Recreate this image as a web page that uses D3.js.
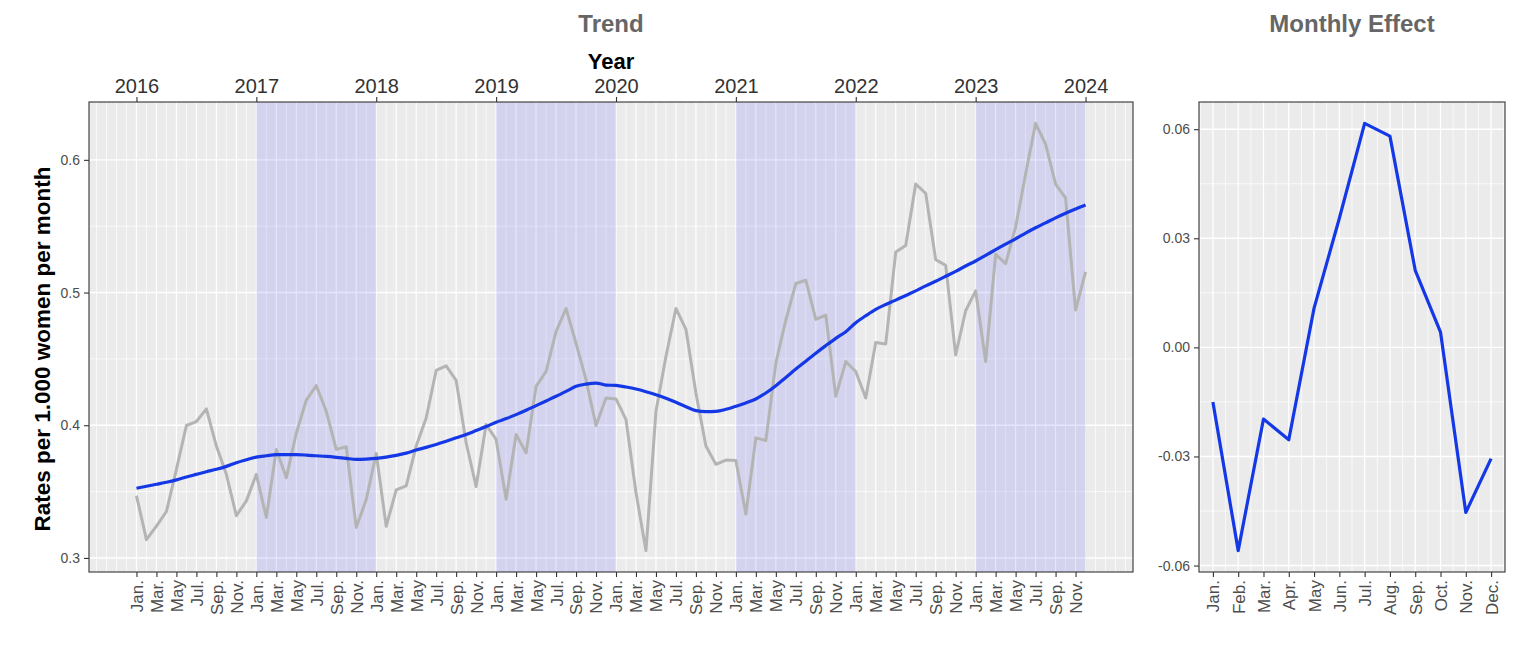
<!DOCTYPE html>
<html><head><meta charset="utf-8">
<script src="https://cdn.jsdelivr.net/npm/d3@7"></script>
<style>
body{margin:0;background:#fff}
text{font-family:"Liberation Sans",Arial,sans-serif}
</style>
</head><body>
<svg id="c" width="1539" height="670"></svg>
<script>
// ---------------- data ----------------
const monthAbbr = ["Jan.","Feb.","Mar.","Apr.","May","Jun.","Jul.","Aug.","Sep.","Oct.","Nov.","Dec."];
// monthly rates, Jan 2016 .. Dec 2023 (index 0..95)
const rates = [
 0.347,0.3138,0.324,0.335,0.3668,0.3998,0.4028,0.4123,0.3843,0.363,0.3318,0.343,
 0.363,0.3305,0.3818,0.3605,0.394,0.419,0.4298,0.4105,0.3818,0.3838,0.323,0.344,
 0.3788,0.3238,0.3513,0.3543,0.3843,0.4055,0.4413,0.4448,0.4338,0.3868,0.3538,0.4005,
 0.3893,0.3443,0.393,0.3793,0.4293,0.4405,0.4705,0.488,0.4618,0.4343,0.3998,0.4205,
 0.4198,0.4043,0.3493,0.3055,0.4105,0.4518,0.488,0.4723,0.4243,0.3843,0.3705,0.3738,
 0.3735,0.333,0.3905,0.3885,0.4468,0.4793,0.5068,0.5093,0.4798,0.483,0.4218,0.448,
 0.4405,0.4205,0.4623,0.4613,0.5305,0.5355,0.5818,0.5748,0.5248,0.5205,0.453,0.4863,
 0.5013,0.448,0.5288,0.5218,0.5493,0.5893,0.6275,0.6118,0.5818,0.5713,0.4868,0.5155
];
const trend = [
 0.3525,0.354,0.3555,0.357,0.3588,0.361,0.363,0.365,0.3668,0.369,0.3718,0.374,
 0.376,0.377,0.3778,0.3778,0.3778,0.3775,0.377,0.3765,0.3758,0.375,0.3743,0.3745,
 0.375,0.376,0.3773,0.379,0.3813,0.3833,0.3855,0.388,0.3905,0.393,0.396,0.399,
 0.4023,0.405,0.408,0.4113,0.4148,0.4183,0.4218,0.4255,0.4293,0.431,0.4318,0.4303,
 0.43,0.4288,0.4273,0.4253,0.423,0.4203,0.4173,0.414,0.411,0.4103,0.4105,0.412,
 0.4143,0.4168,0.4198,0.4243,0.4298,0.436,0.4423,0.4483,0.4543,0.46,0.4655,0.4705,
 0.4773,0.4825,0.4873,0.491,0.4943,0.4978,0.5013,0.505,0.5085,0.5123,0.516,0.52,
 0.5238,0.528,0.5323,0.5365,0.5405,0.5448,0.5488,0.5525,0.5563,0.5598,0.563,0.566
];
const yearTickIdx = [0,12,24,36,48,60,72,84,95];
const yearLabels = ["2016","2017","2018","2019","2020","2021","2022","2023","2024"];
const shadedStart = [12,36,60,84];
const shadedEnd = [24,48,72,95];
const yTicksLeft = [0.3,0.4,0.5,0.6];
const yMinorLeft = [0.35,0.45,0.55];
const monthlyEffect = [-0.0150,-0.0559,-0.0197,-0.0254,0.0108,0.0355,0.0616,0.0581,0.0212,0.0042,-0.0454,-0.0306];
const yTicksRight = [-0.06,-0.03,0.00,0.03,0.06];
const yMinorRight = [-0.045,-0.015,0.015,0.045];

// ---------------- layout ----------------
const svg = d3.select("#c");
const L = {x0:89, x1:1133, y0:102, y1:572};
const R = {x0:1199, x1:1505, y0:102, y1:572};
const gridCol = "#ffffff", bg = "#EBEBEB";

function expand(ext, f){ const r = ext[1]-ext[0]; return [ext[0]-f*r, ext[1]+f*r]; }

const idx = d3.range(rates.length);
const xL = d3.scaleLinear().domain(expand([0, rates.length-1], 0.05)).range([L.x0, L.x1]);
const yL = d3.scaleLinear().domain(expand(d3.extent(rates.concat(trend)), 0.05)).range([L.y1, L.y0]);

// left panel background
svg.append("rect").attr("x",L.x0).attr("y",L.y0).attr("width",L.x1-L.x0).attr("height",L.y1-L.y0).attr("fill",bg);
const gl = svg.append("g");
// vertical grid (every month)
const vLines = d3.range(-4, 100).filter(i => xL(i) > L.x0 && xL(i) < L.x1);
gl.selectAll(".vg").data(vLines).join("line")
  .attr("x1", d => xL(d)).attr("x2", d => xL(d)).attr("y1", L.y0).attr("y2", L.y1)
  .attr("stroke", gridCol).attr("stroke-width", d => (d % 2 === 0 && d>=0 && d<=94) ? 1.2 : 0.7);
gl.selectAll(".hm").data(yMinorLeft).join("line")
  .attr("x1", L.x0).attr("x2", L.x1).attr("y1", d => yL(d)).attr("y2", d => yL(d))
  .attr("stroke", gridCol).attr("stroke-width", 0.7);
gl.selectAll(".hM").data(yTicksLeft).join("line")
  .attr("x1", L.x0).attr("x2", L.x1).attr("y1", d => yL(d)).attr("y2", d => yL(d))
  .attr("stroke", gridCol).attr("stroke-width", 1.4);
// shaded years
svg.append("g").selectAll("rect").data(shadedStart).join("rect")
  .attr("x", d => xL(d)).attr("width", (d,i) => xL(shadedEnd[i]) - xL(d))
  .attr("y", L.y0).attr("height", L.y1-L.y0)
  .attr("fill", "#0000ff").attr("fill-opacity", 0.1);
// lines
svg.append("path").datum(idx)
  .attr("d", d3.line().x(i => xL(i)).y(i => yL(rates[i])))
  .attr("fill","none").attr("stroke","#B4B4B4").attr("stroke-width",3).attr("stroke-linejoin","round");
svg.append("path").datum(idx)
  .attr("d", d3.line().x(i => xL(i)).y(i => yL(trend[i])).curve(d3.curveMonotoneX))
  .attr("fill","none").attr("stroke","#1538E6").attr("stroke-width",3.2).attr("stroke-linejoin","round");
// border
svg.append("rect").attr("x",L.x0).attr("y",L.y0).attr("width",L.x1-L.x0).attr("height",L.y1-L.y0)
  .attr("fill","none").attr("stroke","#333").attr("stroke-width",1.1);

// axes
function styleAxis(g, size){
  g.select(".domain").remove();
  g.selectAll(".tick line").attr("stroke","#333").attr("stroke-width",1.1);
  g.selectAll(".tick text").attr("fill","#4D4D4D").style("font-size", size+"px");
}
const axL = svg.append("g").attr("transform",`translate(${L.x0},0)`)
  .call(d3.axisLeft(yL).tickValues(yTicksLeft).tickFormat(d3.format(".1f")).tickSize(5).tickPadding(4));
styleAxis(axL, 14);

const evenIdx = idx.filter(i => i % 2 === 0);
const axB = svg.append("g").attr("transform",`translate(0,${L.y1})`)
  .call(d3.axisBottom(xL).tickValues(evenIdx).tickFormat(i => monthAbbr[i % 12]).tickSize(5));
styleAxis(axB, 17);
axB.selectAll(".tick text").attr("transform","rotate(-90)").attr("text-anchor","end")
  .attr("x", -8).attr("y", 0).attr("dy","0.35em");

const axT = svg.append("g").attr("transform",`translate(0,${L.y0})`)
  .call(d3.axisTop(xL).tickValues(yearTickIdx).tickFormat((d,i) => yearLabels[i]).tickSize(5).tickPadding(4));
styleAxis(axT, 20);
axT.selectAll(".tick text").attr("fill","#333");

// titles
const cxL = (L.x0+L.x1)/2;
svg.append("text").attr("x",cxL).attr("y",32).attr("text-anchor","middle")
  .style("font-size","24px").style("font-weight","bold").attr("fill","#666").text("Trend");
svg.append("text").attr("x",cxL).attr("y",69).attr("text-anchor","middle")
  .style("font-size","22px").style("font-weight","bold").attr("fill","#000").text("Year");
svg.append("text").attr("transform",`translate(50,${(L.y0+L.y1)/2 + 12}) rotate(-90)`).attr("text-anchor","middle")
  .style("font-size","22.5px").style("font-weight","bold").attr("fill","#000").text("Rates per 1.000 women per month");

// ---------------- right panel ----------------
const months = d3.range(1, 13);
const xR = d3.scaleLinear().domain(expand([1,12], 0.05)).range([R.x0, R.x1]);
const yR = d3.scaleLinear().domain(expand(d3.extent(monthlyEffect), 0.05)).range([R.y1, R.y0]);
svg.append("rect").attr("x",R.x0).attr("y",R.y0).attr("width",R.x1-R.x0).attr("height",R.y1-R.y0).attr("fill",bg);
const gr = svg.append("g");
const vMinorR = d3.range(0.5, 13, 1).filter(v => xR(v) > R.x0 && xR(v) < R.x1);
gr.selectAll(".vm").data(vMinorR).join("line")
  .attr("x1", d => xR(d)).attr("x2", d => xR(d)).attr("y1", R.y0).attr("y2", R.y1)
  .attr("stroke", gridCol).attr("stroke-width", 0.7);
gr.selectAll(".vM").data(months).join("line")
  .attr("x1", d => xR(d)).attr("x2", d => xR(d)).attr("y1", R.y0).attr("y2", R.y1)
  .attr("stroke", gridCol).attr("stroke-width", 1.3);
gr.selectAll(".hm").data(yMinorRight).join("line")
  .attr("x1", R.x0).attr("x2", R.x1).attr("y1", d => yR(d)).attr("y2", d => yR(d))
  .attr("stroke", gridCol).attr("stroke-width", 0.7);
gr.selectAll(".hM").data(yTicksRight).join("line")
  .attr("x1", R.x0).attr("x2", R.x1).attr("y1", d => yR(d)).attr("y2", d => yR(d))
  .attr("stroke", gridCol).attr("stroke-width", 1.4);
svg.append("path").datum(months)
  .attr("d", d3.line().x(m => xR(m)).y(m => yR(monthlyEffect[m-1])))
  .attr("fill","none").attr("stroke","#1538E6").attr("stroke-width",3.2).attr("stroke-linejoin","round");
svg.append("rect").attr("x",R.x0).attr("y",R.y0).attr("width",R.x1-R.x0).attr("height",R.y1-R.y0)
  .attr("fill","none").attr("stroke","#333").attr("stroke-width",1.1);
const axRL = svg.append("g").attr("transform",`translate(${R.x0},0)`)
  .call(d3.axisLeft(yR).tickValues(yTicksRight).tickFormat(d3.format(".2f")).tickSize(5).tickPadding(4));
styleAxis(axRL, 14);
axRL.selectAll(".tick text").text(d => d < 0 ? "-" + d3.format(".2f")(-d) : d3.format(".2f")(d));
const axRB = svg.append("g").attr("transform",`translate(0,${R.y1})`)
  .call(d3.axisBottom(xR).tickValues(months).tickFormat(m => monthAbbr[m-1]).tickSize(5));
styleAxis(axRB, 17);
axRB.selectAll(".tick text").attr("transform","rotate(-90)").attr("text-anchor","end")
  .attr("x", -8).attr("y", 0).attr("dy","0.35em");
svg.append("text").attr("x",(R.x0+R.x1)/2).attr("y",32).attr("text-anchor","middle")
  .style("font-size","24px").style("font-weight","bold").attr("fill","#666").text("Monthly Effect");
</script>
</body></html>
